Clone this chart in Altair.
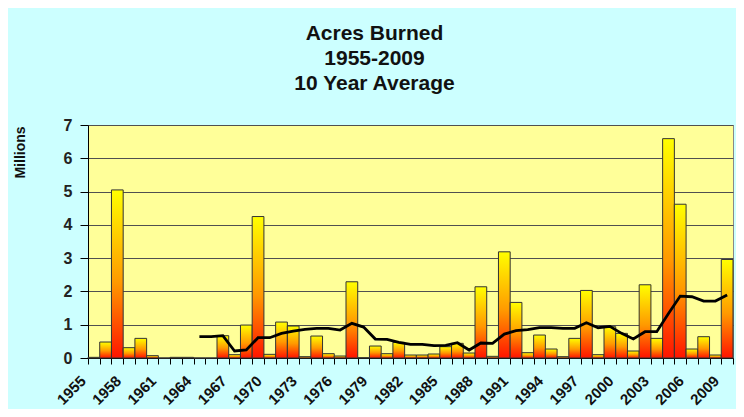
import altair as alt
import pandas as pd

years = list(range(1955, 2010))
acres = [0.02, 0.48, 5.05, 0.31, 0.59, 0.07, 0.0, 0.02, 0.02, 0.0,
         0.0, 0.67, 0.10, 0.99, 4.25, 0.11, 1.08, 0.96, 0.04, 0.66,
         0.13, 0.06, 2.29, 0.01, 0.36, 0.13, 0.47, 0.09, 0.09, 0.12,
         0.34, 0.44, 0.15, 2.14, 0.05, 3.19, 1.67, 0.16, 0.69, 0.27,
         0.04, 0.59, 2.03, 0.10, 0.94, 0.74, 0.21, 2.20, 0.59, 6.59,
         4.62, 0.27, 0.64, 0.09, 2.96]

avg_years = list(range(1964, 2010))
avg10 = [0.64, 0.64, 0.67, 0.21, 0.24, 0.61, 0.61, 0.74, 0.81, 0.86,
         0.89, 0.89, 0.84, 1.04, 0.93, 0.57, 0.56, 0.47, 0.41, 0.41,
         0.37, 0.38, 0.46, 0.24, 0.45, 0.44, 0.72, 0.82, 0.85, 0.91,
         0.91, 0.89, 0.89, 1.06, 0.91, 0.95, 0.74, 0.57, 0.79, 0.79,
         1.34, 1.86, 1.84, 1.71, 1.71, 1.89]

bars_df = pd.DataFrame({"year": years, "acres": acres})
avg_df = pd.DataFrame({"year": avg_years, "avg": avg10})

FONT = "Liberation Sans"

xscale = alt.Scale(paddingInner=0, paddingOuter=0, domain=years)
yscale = alt.Scale(domain=[0, 7], nice=False)

xaxis = alt.Axis(
    title=None,
    labelAngle=-45,
    labelAlign="right",
    labelBaseline="middle",
    labelFontSize=15,
    labelFontWeight="bold",
    labelColor="#111111",
    labelPadding=14,
    labelOffset=-11,
    labelOverlap=False,
    labelExpr="(datum.value - 1955) % 3 == 0 ? datum.label : ''",
    tickBand="extent",
    tickSize=6,
    tickColor="#000000",
    domainColor="#000000",
    grid=False,
)

yaxis = alt.Axis(
    title="Millions",
    titleFontSize=14,
    titleFontWeight="bold",
    titleColor="#111111",
    titleX=-68,
    titleY=27,
    titleAlign="center",
    titleBaseline="middle",
    values=[0, 1, 2, 3, 4, 5, 6, 7],
    labelOverlap=False,
    labelFontSize=16,
    labelFontWeight="bold",
    labelColor="#222222",
    labelPadding=8,
    tickSize=8,
    tickColor="#000000",
    domainColor="#000000",
    grid=True,
    gridColor="#505050",
    gridWidth=1.2,
)

gradient = alt.Gradient(
    gradient="linear",
    stops=[
        alt.GradientStop(color="#FFFF00", offset=0),
        alt.GradientStop(color="#FF9900", offset=0.55),
        alt.GradientStop(color="#FF1400", offset=1),
    ],
    x1=0, x2=0, y1=0, y2=1,
)

bars = alt.Chart(bars_df).mark_bar(
    fill=gradient, stroke="#333333", strokeWidth=1
).encode(
    x=alt.X("year:O", scale=xscale, axis=xaxis),
    y=alt.Y("acres:Q", scale=yscale, axis=yaxis),
)

line = alt.Chart(avg_df).mark_line(color="#000000", strokeWidth=2.8).encode(
    x=alt.X("year:O", scale=xscale, axis=xaxis),
    y=alt.Y("avg:Q", scale=yscale, axis=yaxis),
)

chart = alt.layer(bars, line).properties(
    width=645,
    height=233,
    padding={"left": 80, "top": 117, "right": 3, "bottom": 51},
    autosize=alt.AutoSizeParams(type="none"),
    title=alt.TitleParams(
        text=["Acres Burned", "1955-2009", "10 Year Average"],
        fontSize=21,
        fontWeight="bold",
        font=FONT,
        color="#111111",
        lineHeight=25,
        anchor="middle",
        dx=-36,
        offset=23,
    ),
).configure(
    font=FONT,
    background="#CCFFFF",
).configure_view(
    fill="#FFFF99",
    stroke="#888888",
)

chart.save("out.html", embed_options={"renderer": "svg", "actions": False})
